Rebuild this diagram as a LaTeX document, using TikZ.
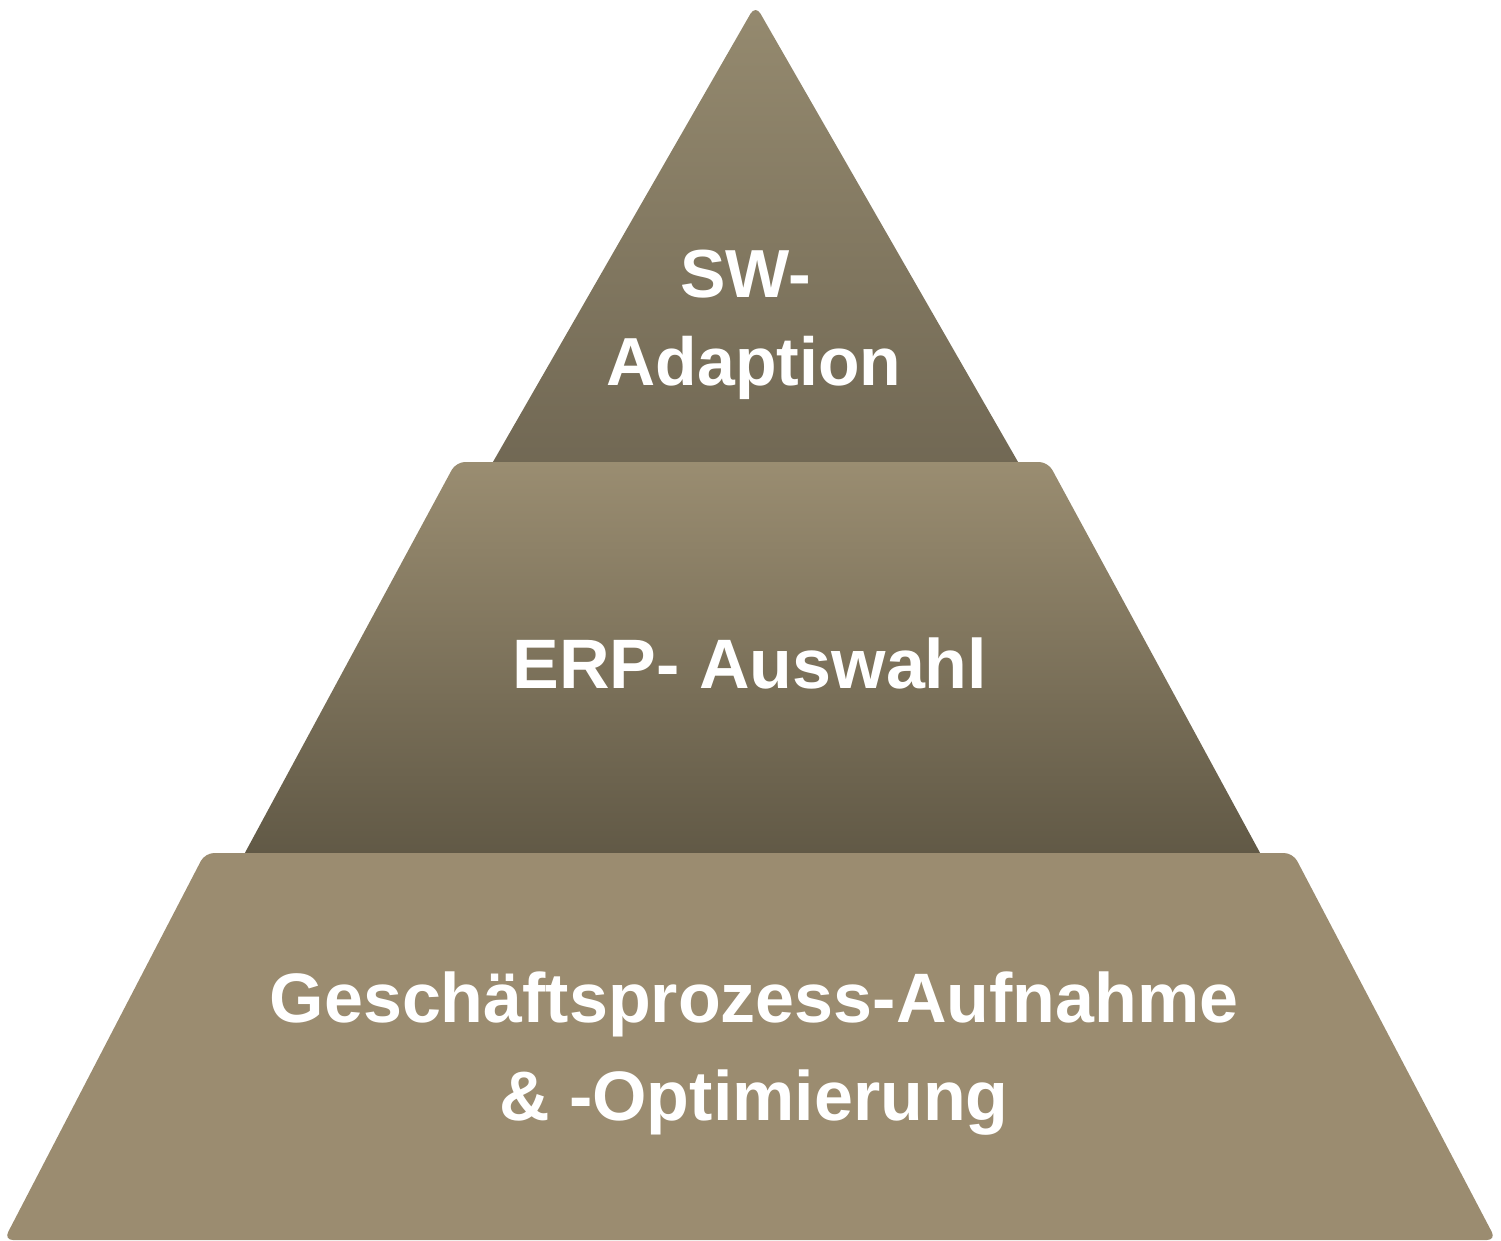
\documentclass[tikz,border=0pt]{standalone}
\usepackage{fontspec}
\setmainfont{Liberation Sans}
\definecolor{topA}{HTML}{958A6F}
\definecolor{topB}{HTML}{706753}
\definecolor{midA}{HTML}{9A8D71}
\definecolor{midB}{HTML}{605845}
\definecolor{baseC}{HTML}{9B8C70}
\tikzset{
  tiertext/.style={text=white, font=\bfseries\fontsize{70}{88}\selectfont, align=center, anchor=base, inner sep=0pt},
}
\begin{document}
\begin{tikzpicture}[x=1pt,y=-1pt]
\useasboundingbox (0,0) rectangle (1501,1241);
% top triangle (bottom part hidden under the middle tier)
\shade[top color=topA, bottom color=topB, rounded corners=10pt]
  (755.5,5) -- (1028.4,480) -- (482.6,480) -- cycle;
% middle tier
\shade[top color=midA, bottom color=midB, rounded corners=9pt]
  (456,462) -- (1048,462) -- (1265,862) -- (240,862) -- cycle;
% bottom tier
\fill[baseC, rounded corners=9pt]
  (205,853) -- (1293,853) -- (1496,1240) -- (4,1240) -- cycle;
% texts
\node[tiertext, font=\bfseries\fontsize{68}{88}\selectfont] (sw) at (754,385) {SW-\hspace*{16pt}\\Adaption};
\node[tiertext] (erp) at (750,688) {ERP- Auswahl};
\node[tiertext, font=\bfseries\fontsize{70}{98}\selectfont] (gp) at (754,1120) {Geschäftsprozess-Aufnahme\\\& -Optimierung};
\end{tikzpicture}
\end{document}
